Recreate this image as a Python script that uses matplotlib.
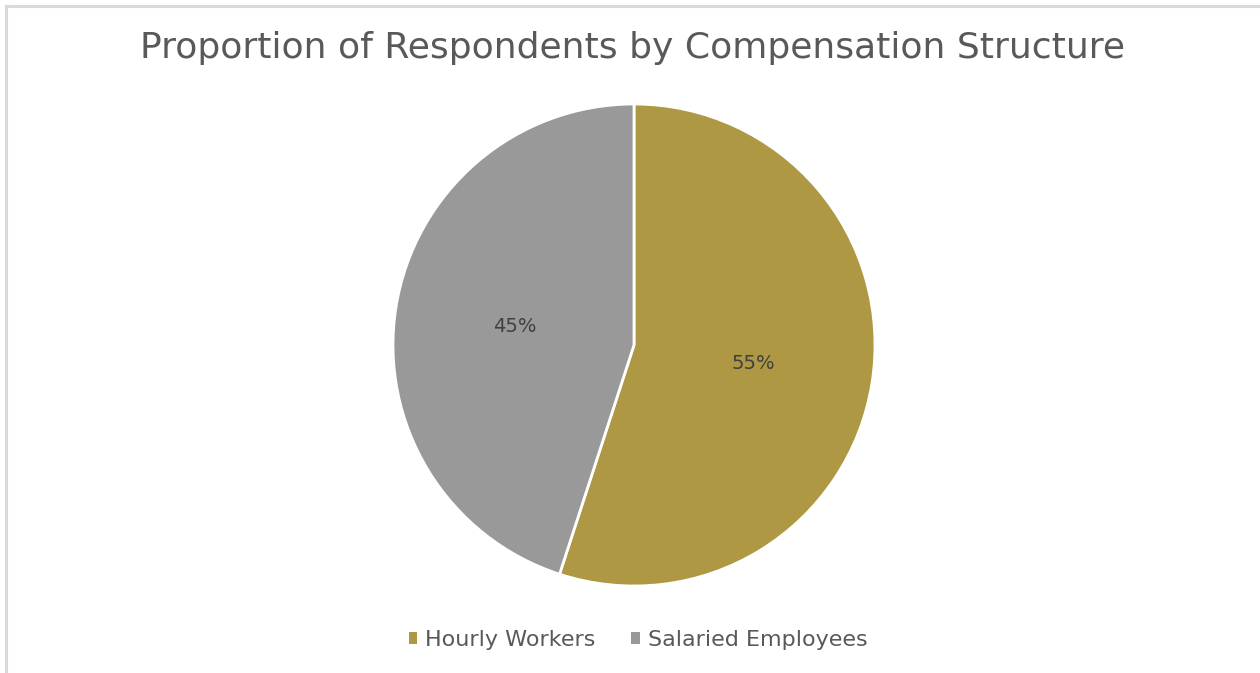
import matplotlib
matplotlib.use("Agg")
import matplotlib.pyplot as plt
from matplotlib.lines import Line2D

categories = ["Hourly Workers", "Salaried Employees"]
shares = [55, 45]
colors = ["#AE9843", "#999999"]
title = "Proportion of Respondents by Compensation Structure"

fig = plt.figure(figsize=(12.6, 6.73), dpi=100)
fig.patch.set_facecolor("white")

# chart-area frame (top and left edges)
fig.add_artist(Line2D([6 / 1260, 1259 / 1260], [1 - 6 / 673, 1 - 6 / 673],
                      color="#D9D9D9", lw=2.2, transform=fig.transFigure))
fig.add_artist(Line2D([6 / 1260, 6 / 1260], [0, 1 - 6 / 673],
                      color="#D9D9D9", lw=2.2, transform=fig.transFigure))

cx, cy, r = 634, 345, 241
ax = fig.add_axes([(cx - r) / 1260, 1 - (cy + r) / 673, 2 * r / 1260, 2 * r / 673])
wedges, _, autotexts = ax.pie(
    shares, colors=colors, startangle=90, counterclock=False,
    autopct="%1.0f%%", pctdistance=0.5,
    wedgeprops=dict(edgecolor="white", linewidth=2.0),
    textprops=dict(color="#404040", fontsize=14, family="DejaVu Sans"),
)
ax.set_xlim(-1, 1)
ax.set_ylim(-1, 1)
ax.set_aspect("equal")
ax.axis("off")

fig.text(633 / 1260, 1 - 48 / 673, title, ha="center", va="center",
         fontsize=26, color="#595959", family="DejaVu Sans")

leg = fig.legend(wedges, categories, loc="center", bbox_to_anchor=(638 / 1260, 1 - 640 / 673),
                 ncol=2, frameon=False, fontsize=16, handlelength=0.4, handleheight=0.4,
                 handletextpad=0.35, columnspacing=1.6)
for t in leg.get_texts():
    t.set_color("#595959")
for h in leg.legend_handles:
    h.set_edgecolor("none")

fig.savefig("out.png", dpi=100, facecolor="white")
